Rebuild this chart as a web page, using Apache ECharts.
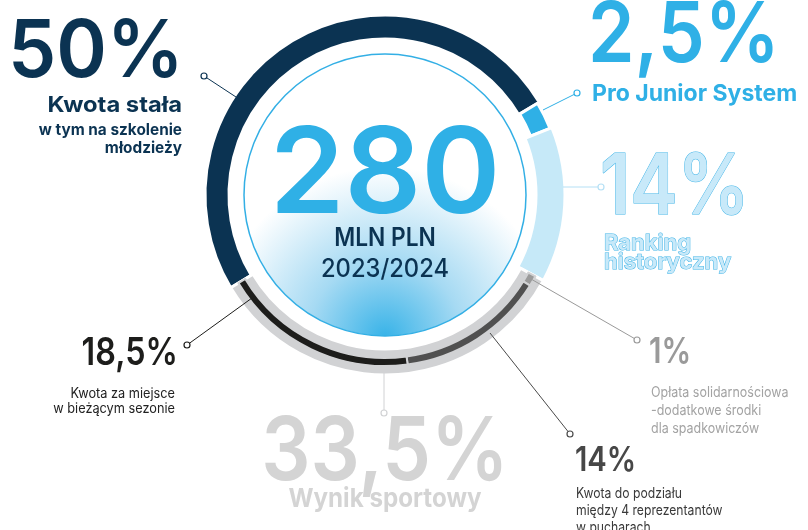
<!DOCTYPE html>
<html>
<head>
<meta charset="utf-8">
<script src="https://cdn.jsdelivr.net/npm/echarts@6/dist/echarts.min.js"></script>
<style>
  html, body { margin: 0; padding: 0; background: #fff; }
  #chart { width: 808px; height: 530px; }
</style>
</head>
<body>
<div id="chart"></div>
<script>
// main split of the 280 mln pool
var segNames = ['Kwota stała', 'Pro Junior System', 'Ranking historyczny', 'Wynik sportowy'];
var segValues = [50, 2.5, 14, 33.5];
// parts of "Wynik sportowy"
var subNames = ['Opłata solidarnościowa', 'Kwota do podziału', 'Kwota za miejsce'];
var subValues = [1, 14, 18.5];
var totalValue = 280;
var centerLines = ['MLN PLN', '2023/2024'];
var notes = [
    'w tym na szkolenie\nmłodzieży',
    '-dodatkowe środki\ndla spadkowiczów',
    'między 4 reprezentantów\nw pucharach',
    'w bieżącym sezonie'
];

var NAVY = '#0b3352';
var BLUE = '#2fb0e6';
var FONT = 'Inter';
var CX = 385, CY = 195;

function pct(v) {
    return String(v).replace('.', ',') + '%';
}

var chartDom = document.getElementById('chart');
var myChart = echarts.init(chartDom);

var clear = 'rgba(0,0,0,0)';
var segColors = [NAVY, BLUE, '#c6e9f8', '#d1d2d4'];
var subColors = ['#9a9a9a', '#505050', '#1d1d1b'];

function ringSeries(idx, radius) {
    return {
        type: 'pie',
        center: [CX, CY],
        radius: radius,
        startAngle: 211,
        silent: true,
        animation: false,
        label: { show: false },
        labelLine: { show: false },
        data: segValues.map(function (v, i) {
            return {
                name: segNames[i],
                value: v,
                itemStyle: i === idx
                    ? { color: segColors[i], borderColor: '#fff', borderWidth: 3 }
                    : { color: clear, borderWidth: 0 }
            };
        })
    };
}

var innerData = segValues.slice(0, 3).map(function (v, i) {
    return { name: segNames[i], value: v, itemStyle: { color: clear, borderWidth: 0 } };
}).concat(subValues.map(function (v, i) {
    return { name: subNames[i], value: v, itemStyle: { color: subColors[i], borderColor: '#d1d2d4', borderWidth: 2 } };
}));

// o: {size, weight, fill, align, sx, lh, stroke}
function txt(text, x, y, o) {
    var style = {
        text: text,
        font: o.weight + ' ' + o.size + 'px ' + FONT,
        fill: o.fill,
        align: o.align,
        textAlign: o.align,
        verticalAlign: o.lh ? 'top' : 'middle',
        textVerticalAlign: o.lh ? 'top' : 'middle'
    };
    if (o.lh) style.lineHeight = o.lh;
    if (o.stroke) { style.stroke = o.stroke; style.lineWidth = 1; }
    return {
        type: 'text',
        x: x,
        y: y,
        scaleX: o.sx || 1,
        z: 20,
        silent: true,
        style: style
    };
}

function leader(x1, y1, x2, y2, color) {
    return [
        { type: 'line', z: 15, silent: true, shape: { x1: x1, y1: y1, x2: x2, y2: y2 }, style: { stroke: color, lineWidth: 1 } },
        { type: 'circle', z: 16, silent: true, shape: { cx: x2, cy: y2, r: 3 }, style: { stroke: color, fill: '#fff', lineWidth: 1.2 } }
    ];
}

var graphics = [].concat(
    // centre
    txt(String(totalValue), CX, 177, { size: 120, weight: 600, fill: BLUE, align: 'center' }),
    txt(centerLines[0], CX, 238, { size: 25, weight: 600, fill: NAVY, align: 'center', sx: 0.91 }),
    txt(centerLines[1], CX, 269, { size: 25, weight: 500, fill: NAVY, align: 'center', sx: 0.95 }),
    // Kwota stała
    txt(pct(segValues[0]), 184, 53, { size: 80, weight: 600, fill: NAVY, align: 'right', sx: 0.96 }),
    txt(segNames[0], 182, 105, { size: 22, weight: 700, fill: NAVY, align: 'right', sx: 1.08 }),
    txt(notes[0], 182, 121, { size: 16, weight: 700, fill: NAVY, align: 'right', sx: 0.96, lh: 18 }),
    leader(236, 97, 204, 76, NAVY),
    // Pro Junior System
    txt(pct(segValues[1]), 588, 37, { size: 84, weight: 600, fill: BLUE, align: 'left', sx: 0.89 }),
    txt(segNames[1], 592, 94, { size: 23, weight: 700, fill: BLUE, align: 'left' }),
    leader(543, 110, 577, 93, BLUE),
    // Ranking historyczny
    txt(pct(segValues[2]), 600, 189, { size: 84, weight: 600, fill: '#c8e9f9', align: 'left', sx: 0.85, stroke: '#3db3e7' }),
    txt('Ranking\nhistoryczny', 604, 234, { size: 22, weight: 700, fill: '#c8e9f9', align: 'left', lh: 19, stroke: '#3db3e7' }),
    leader(563, 187, 601, 187, '#b5e0f5'),
    // Wynik sportowy
    txt(pct(segValues[3]), CX, 454, { size: 88, weight: 600, fill: '#d4d4d4', align: 'center', sx: 0.88 }),
    txt(segNames[3], CX, 499, { size: 26, weight: 700, fill: '#d4d4d4', align: 'center', sx: 0.93 }),
    leader(384, 373, 384, 413, '#d1d2d4'),
    // Kwota za miejsce
    txt(pct(subValues[2]), 178, 354, { size: 38, weight: 600, fill: '#1d1d1b', align: 'right', sx: 0.85 }),
    txt(subNames[2] + '\n' + notes[3], 175, 386, { size: 14, weight: 400, fill: '#222', align: 'right', sx: 0.91, lh: 15 }),
    leader(252, 298, 187, 345, '#1d1d1b'),
    // Opłata solidarnościowa
    txt(pct(subValues[0]), 649, 352, { size: 36, weight: 600, fill: '#9a9a9a', align: 'left', sx: 0.82 }),
    txt(subNames[0] + '\n' + notes[1], 651, 384, { size: 14.5, weight: 400, fill: '#a3a3a3', align: 'left', sx: 0.86, lh: 18 }),
    leader(531, 279, 637, 340, '#9a9a9a'),
    // Kwota do podziału
    txt(pct(subValues[1]), 575, 461, { size: 34, weight: 600, fill: '#474747', align: 'left', sx: 0.86 }),
    txt(subNames[1] + '\n' + notes[2], 576, 485, { size: 14.5, weight: 400, fill: '#3a3a3a', align: 'left', sx: 0.84, lh: 17 }),
    leader(490, 333, 570, 434, '#4a4a4a')
);

var option = {
    backgroundColor: '#fff',
    graphic: graphics,
    series: [
        {
            type: 'pie',
            center: [CX, CY],
            radius: [0, 141],
            silent: true,
            animation: false,
            label: { show: false },
            labelLine: { show: false },
            data: [{
                name: 'total',
                value: totalValue,
                itemStyle: {
                    color: {
                        type: 'radial', x: 0.5, y: 1, r: 0.6,
                        colorStops: [
                            { offset: 0, color: '#38b3e8' },
                            { offset: 0.45, color: '#a6daf3' },
                            { offset: 1, color: '#ffffff' }
                        ]
                    },
                    borderColor: '#33afe5',
                    borderWidth: 1.5
                }
            }]
        },
        ringSeries(0, [156, 180]),
        ringSeries(1, [157, 178]),
        ringSeries(2, [151, 180]),
        ringSeries(3, [154, 180]),
        {
            type: 'pie',
            center: [CX, CY],
            radius: [163, 171],
            startAngle: 211,
            silent: true,
            animation: false,
            label: { show: false },
            labelLine: { show: false },
            data: innerData
        }
    ]
};
myChart.setOption(option);
</script>
</body>
</html>
